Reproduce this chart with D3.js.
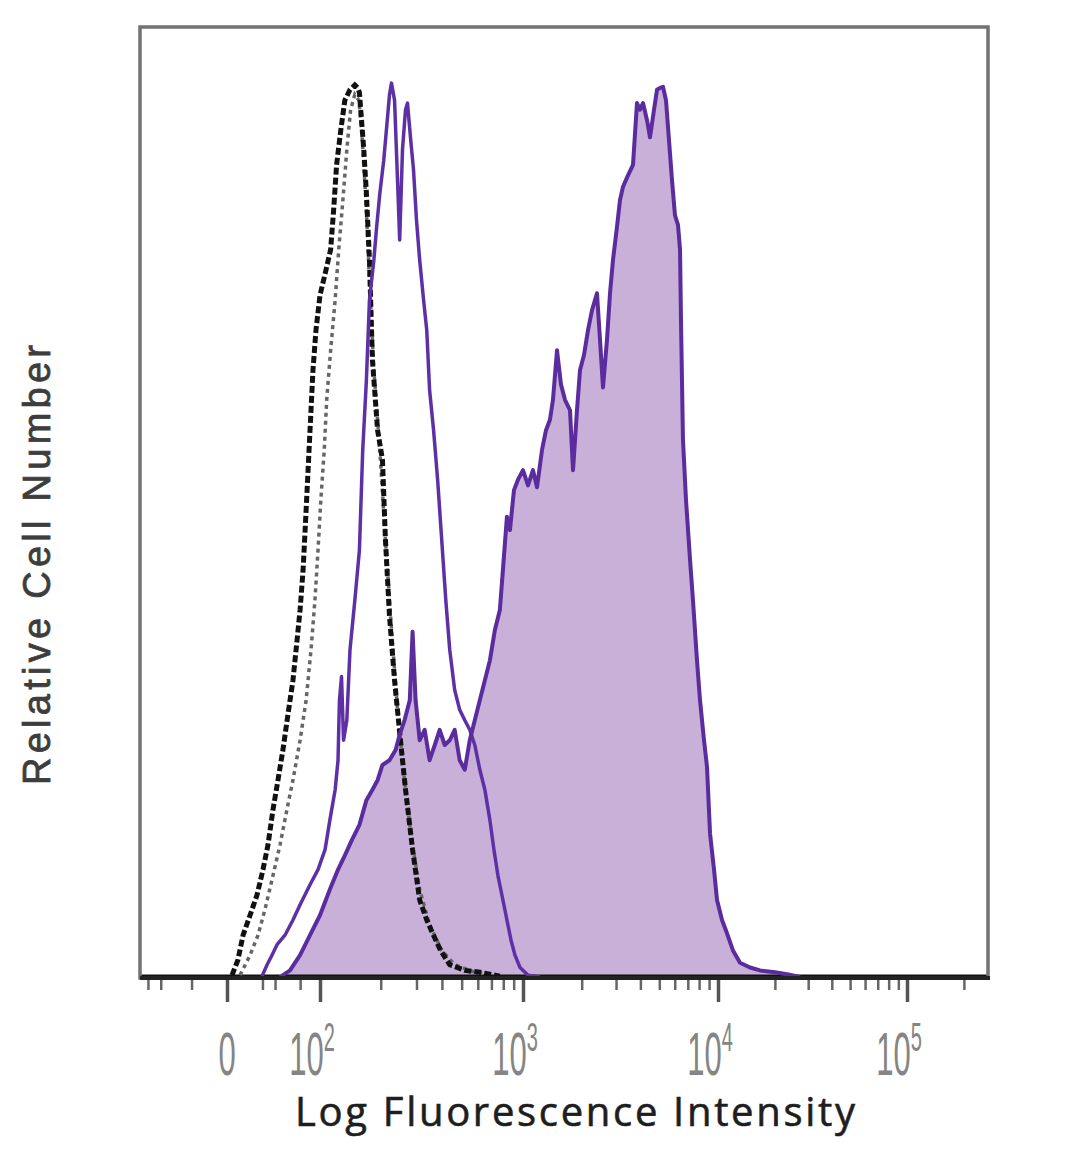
<!DOCTYPE html>
<html>
<head>
<meta charset="utf-8">
<script src="https://cdn.jsdelivr.net/npm/d3@7"></script>
<style>
  body { margin: 0; background: #fff; }
  svg { display: block; }
</style>
</head>
<body>
<svg id="chart"></svg>
<script>
// histogram data: [fluorescence intensity, relative count]
const isotypeBlack = [
  [2.5, 0.3], [5.5, 1.9], [8.2, 4.5], [12.1, 6.6], [16.3, 8.7], [20.4, 11.4], [24.1, 14.0],
  [28.2, 17.7], [32.7, 20.8], [37.7, 24.0], [43.3, 27.7], [49.6, 31.3], [55.3, 35.5],
  [59.9, 38.7], [64.8, 42.9], [68.3, 47.1], [71.9, 51.3], [75.6, 55.5], [79.5, 59.7],
  [83.6, 63.9], [90.2, 68.1], [100, 71.8], [107, 74.4], [113, 76.6], [117, 80.8],
  [121, 85.5], [127, 89.2], [133, 92.3], [141, 93.4], [149, 93.9], [154, 93.6], [157, 93.1],
  [165, 87.1], [170, 82.5], [176, 75.5], [182, 65.0], [193, 57.6], [204, 54.5], [211, 46.1],
  [221, 38.0], [234, 31.3], [248, 25.8], [265, 19.8], [287, 13.5], [311, 8.2], [337, 6.1],
  [360, 4.7], [394, 2.9], [437, 1.4], [518, 0.8], [614, 0.6], [770, 0.2]
];

const isotypeGrey = [
  [6.6, 0.3], [12.1, 2.4], [17.0, 4.5], [21.8, 7.2], [27.3, 10.3], [34.7, 14.0], [42.1, 17.7],
  [49.6, 20.8], [59.9, 25.0], [70.1, 29.2], [79.5, 34.5], [87.9, 39.7], [95.1, 45.0],
  [101, 50.3], [105, 55.5], [108, 60.8], [113, 66.0], [119, 71.3], [124, 76.6], [130, 81.8],
  [136, 87.1], [142, 91.3], [149, 92.9], [156, 92.3], [161, 89.2], [169, 81.8], [176, 73.4],
  [185, 63.9], [198, 55.5], [211, 46.1], [226, 36.6], [242, 28.2], [262, 20.8], [284, 14.5],
  [311, 9.3], [348, 5.6], [399, 2.9], [462, 1.4], [580, 0.6], [770, 0.2]
];

const unstimulated = [
  [19.7, 0.2], [23.4, 1.4], [27.3, 2.4], [31.8, 3.5], [39.9, 4.5], [49.6, 6.1], [59.9, 7.7],
  [77.5, 9.8], [95.1, 11.4], [106, 13.5], [112, 16.6], [119, 19.8], [123, 22.9], [125, 29.2],
  [128, 31.7], [131, 25.0], [136, 27.1], [141, 34.5], [149, 39.7], [157, 45.0], [163, 55.5],
  [170, 62.9], [176, 71.3], [185, 75.5], [191, 79.0], [198, 82.5], [207, 86.0], [214, 89.5],
  [221, 92.9], [226, 94.1], [234, 92.3], [242, 83.9], [248, 77.6], [256, 87.1], [265, 91.3],
  [271, 92.0], [281, 88.1], [290, 85.0], [300, 79.7], [311, 75.5], [325, 71.3], [337, 68.1],
  [348, 61.8], [364, 57.6], [381, 52.4], [399, 46.1], [418, 39.7], [437, 34.5], [462, 30.3],
  [489, 28.2], [518, 27.1], [548, 26.1], [580, 24.5], [614, 21.9], [650, 19.8], [688, 16.6],
  [720, 13.5], [753, 10.8], [797, 8.2], [834, 6.1], [873, 4.0], [913, 2.4], [967, 1.1],
  [1061, 0.3], [1222, 0.1]
];

const stimulated = [
  [34.7, 0.1], [45.8, 0.8], [59.9, 2.4], [77.5, 4.5], [100, 6.6], [112, 9.3], [123, 11.4],
  [133, 12.9], [144, 14.5], [157, 16.1], [170, 18.7], [182, 19.8], [193, 20.8], [204, 22.4],
  [221, 22.9], [237, 24.0], [248, 25.6], [262, 27.1], [278, 29.2], [287, 36.4], [297, 29.2],
  [311, 25.0], [329, 26.1], [348, 22.9], [369, 24.5], [390, 26.1], [413, 24.5], [437, 25.0],
  [462, 26.1], [489, 22.9], [518, 21.9], [548, 25.0], [580, 27.1], [614, 29.2], [650, 31.3],
  [688, 33.4], [728, 36.6], [770, 38.7], [797, 42.9], [834, 48.5], [863, 47.1], [903, 51.3],
  [945, 52.4], [1000, 53.4], [1061, 51.8], [1125, 53.4], [1180, 51.6], [1251, 55.5],
  [1312, 57.6], [1375, 58.7], [1425, 60.8], [1494, 66.0], [1566, 62.4], [1642, 60.8],
  [1742, 59.7], [1805, 53.4], [1892, 59.7], [1960, 63.9], [2055, 65.5], [2154, 68.1],
  [2258, 70.2], [2396, 72.0], [2483, 67.1], [2572, 62.1], [2696, 67.1], [2794, 72.0],
  [2894, 75.5], [3034, 79.0], [3144, 81.8], [3257, 83.2], [3455, 84.4], [3665, 85.5],
  [3842, 92.0], [3982, 91.3], [4125, 92.0], [4325, 90.2], [4481, 88.4], [4697, 91.3],
  [4867, 93.4], [5043, 93.6], [5224, 93.7], [5412, 92.3], [5607, 88.1], [5809, 83.9],
  [6018, 80.2], [6234, 79.2], [6387, 76.6], [6459, 69.2], [6613, 56.6], [6852, 50.3],
  [7187, 44.0], [7442, 39.7], [7803, 33.4], [8088, 29.2], [8477, 25.0], [8783, 22.2],
  [9102, 15.2], [9539, 11.4], [9883, 8.2], [10500, 6.1], [11160, 4.7], [12000, 2.9],
  [13074, 1.6], [14770, 1.1], [16680, 0.8], [20030, 0.6], [23180, 0.4], [27150, 0.1]
];

const majorTicks = [0, 100, 1000, 10000, 100000];
const majorLabels = [["0", ""], ["10", "2"], ["10", "3"], ["10", "4"], ["10", "5"]];
const minorTicks = [-70, -50, -20, 20, 30, 60,
  200, 300, 400, 500, 600, 700, 800, 900,
  2000, 3000, 4000, 5000, 6000, 7000, 8000, 9000,
  20000, 30000, 40000, 50000, 60000, 70000, 80000, 90000, 200000];

const width = 1080, height = 1169;
const plotLeft = 140, plotRight = 988, plotTop = 27, plotBottom = 978;

// biexponential-like display transform (arcsinh)
const tf = v => Math.asinh(v / 20) / Math.LN10;

const xLin = d3.scaleLinear()
  .domain(majorTicks.map(tf))
  .range([227, 320, 523, 718, 907]);
const x = v => xLin(tf(v));

const y = d3.scaleLinear().domain([0, 100]).range([plotBottom, plotTop]);

const svg = d3.select("#chart").attr("width", width).attr("height", height);

const line = d3.line().x(d => x(d[0])).y(d => y(d[1]));
const area = d3.area().x(d => x(d[0])).y0(y(0)).y1(d => y(d[1]));

// filled histogram
svg.append("path")
  .datum(stimulated)
  .attr("d", area)
  .attr("fill", "#c8b0d8");

// baseline trace along the bottom
svg.append("line")
  .attr("x1", plotLeft).attr("x2", plotRight)
  .attr("y1", plotBottom - 2).attr("y2", plotBottom - 2)
  .attr("stroke", "#111").attr("stroke-width", 3);

svg.append("path")
  .datum(isotypeGrey)
  .attr("d", line)
  .attr("fill", "none")
  .attr("stroke", "#666")
  .attr("stroke-width", 3.5)
  .attr("stroke-dasharray", "4 4");

svg.append("path")
  .datum(isotypeBlack)
  .attr("d", line)
  .attr("fill", "none")
  .attr("stroke", "#111")
  .attr("stroke-width", 5)
  .attr("stroke-dasharray", "7 3");

svg.append("path")
  .datum(unstimulated)
  .attr("d", line)
  .attr("fill", "none")
  .attr("stroke", "#5d30a5")
  .attr("stroke-width", 3.5)
  .attr("stroke-linejoin", "round");

svg.append("path")
  .datum(stimulated)
  .attr("d", line)
  .attr("fill", "none")
  .attr("stroke", "#5a2c9e")
  .attr("stroke-width", 4)
  .attr("stroke-linejoin", "round");

// frame
svg.append("rect")
  .attr("x", plotLeft).attr("y", plotTop)
  .attr("width", plotRight - plotLeft).attr("height", plotBottom - plotTop)
  .attr("fill", "none")
  .attr("stroke", "#727272")
  .attr("stroke-width", 3.5);

// x axis
const axisG = svg.append("g").attr("transform", `translate(0,${plotBottom})`);

axisG.append("g")
  .call(d3.axisBottom(xLin).tickValues(minorTicks.map(tf)).tickSize(12).tickFormat(""))
  .call(g => g.select(".domain").remove())
  .call(g => g.selectAll(".tick line").attr("stroke", "#666").attr("stroke-width", 2.5));

axisG.append("g")
  .call(d3.axisBottom(xLin).tickValues(majorTicks.map(tf)).tickSize(24).tickFormat(""))
  .call(g => g.select(".domain").remove())
  .call(g => g.selectAll(".tick line").attr("stroke", "#555").attr("stroke-width", 3.5));

axisG.append("line")
  .attr("x1", plotLeft).attr("x2", plotRight + 2)
  .attr("stroke", "#222").attr("stroke-width", 4);

// tick labels
const lbl = svg.append("g")
  .attr("font-family", "Liberation Sans, Arial, sans-serif")
  .attr("fill", "#858585");

majorTicks.forEach((v, i) => {
  const t = lbl.append("text")
    .attr("transform", `translate(${x(v) - (i ? 8 : 0)},1075) scale(0.5,1)`)
    .attr("text-anchor", "middle")
    .attr("font-size", 62);
  t.append("tspan").text(majorLabels[i][0]);
  if (majorLabels[i][1]) {
    t.append("tspan").attr("dy", -24).attr("font-size", 40).text(majorLabels[i][1]);
  }
});

// axis titles
svg.append("text")
  .attr("x", 575).attr("y", 1126)
  .attr("text-anchor", "middle")
  .attr("font-family", "Open Sans, sans-serif")
  .attr("font-size", 40)
  .attr("textLength", 560)
  .attr("fill", "#1e1e1e")
  .attr("stroke", "#1e1e1e")
  .attr("stroke-width", 0.6)
  .text("Log Fluorescence Intensity");

svg.append("text")
  .attr("transform", "translate(50,565) rotate(-90)")
  .attr("text-anchor", "middle")
  .attr("font-family", "Liberation Sans, Arial, sans-serif")
  .attr("font-size", 38)
  .attr("textLength", 440)
  .attr("fill", "#3d3d3d")
  .attr("stroke", "#3d3d3d")
  .attr("stroke-width", 0.8)
  .text("Relative Cell Number");
</script>
</body>
</html>
